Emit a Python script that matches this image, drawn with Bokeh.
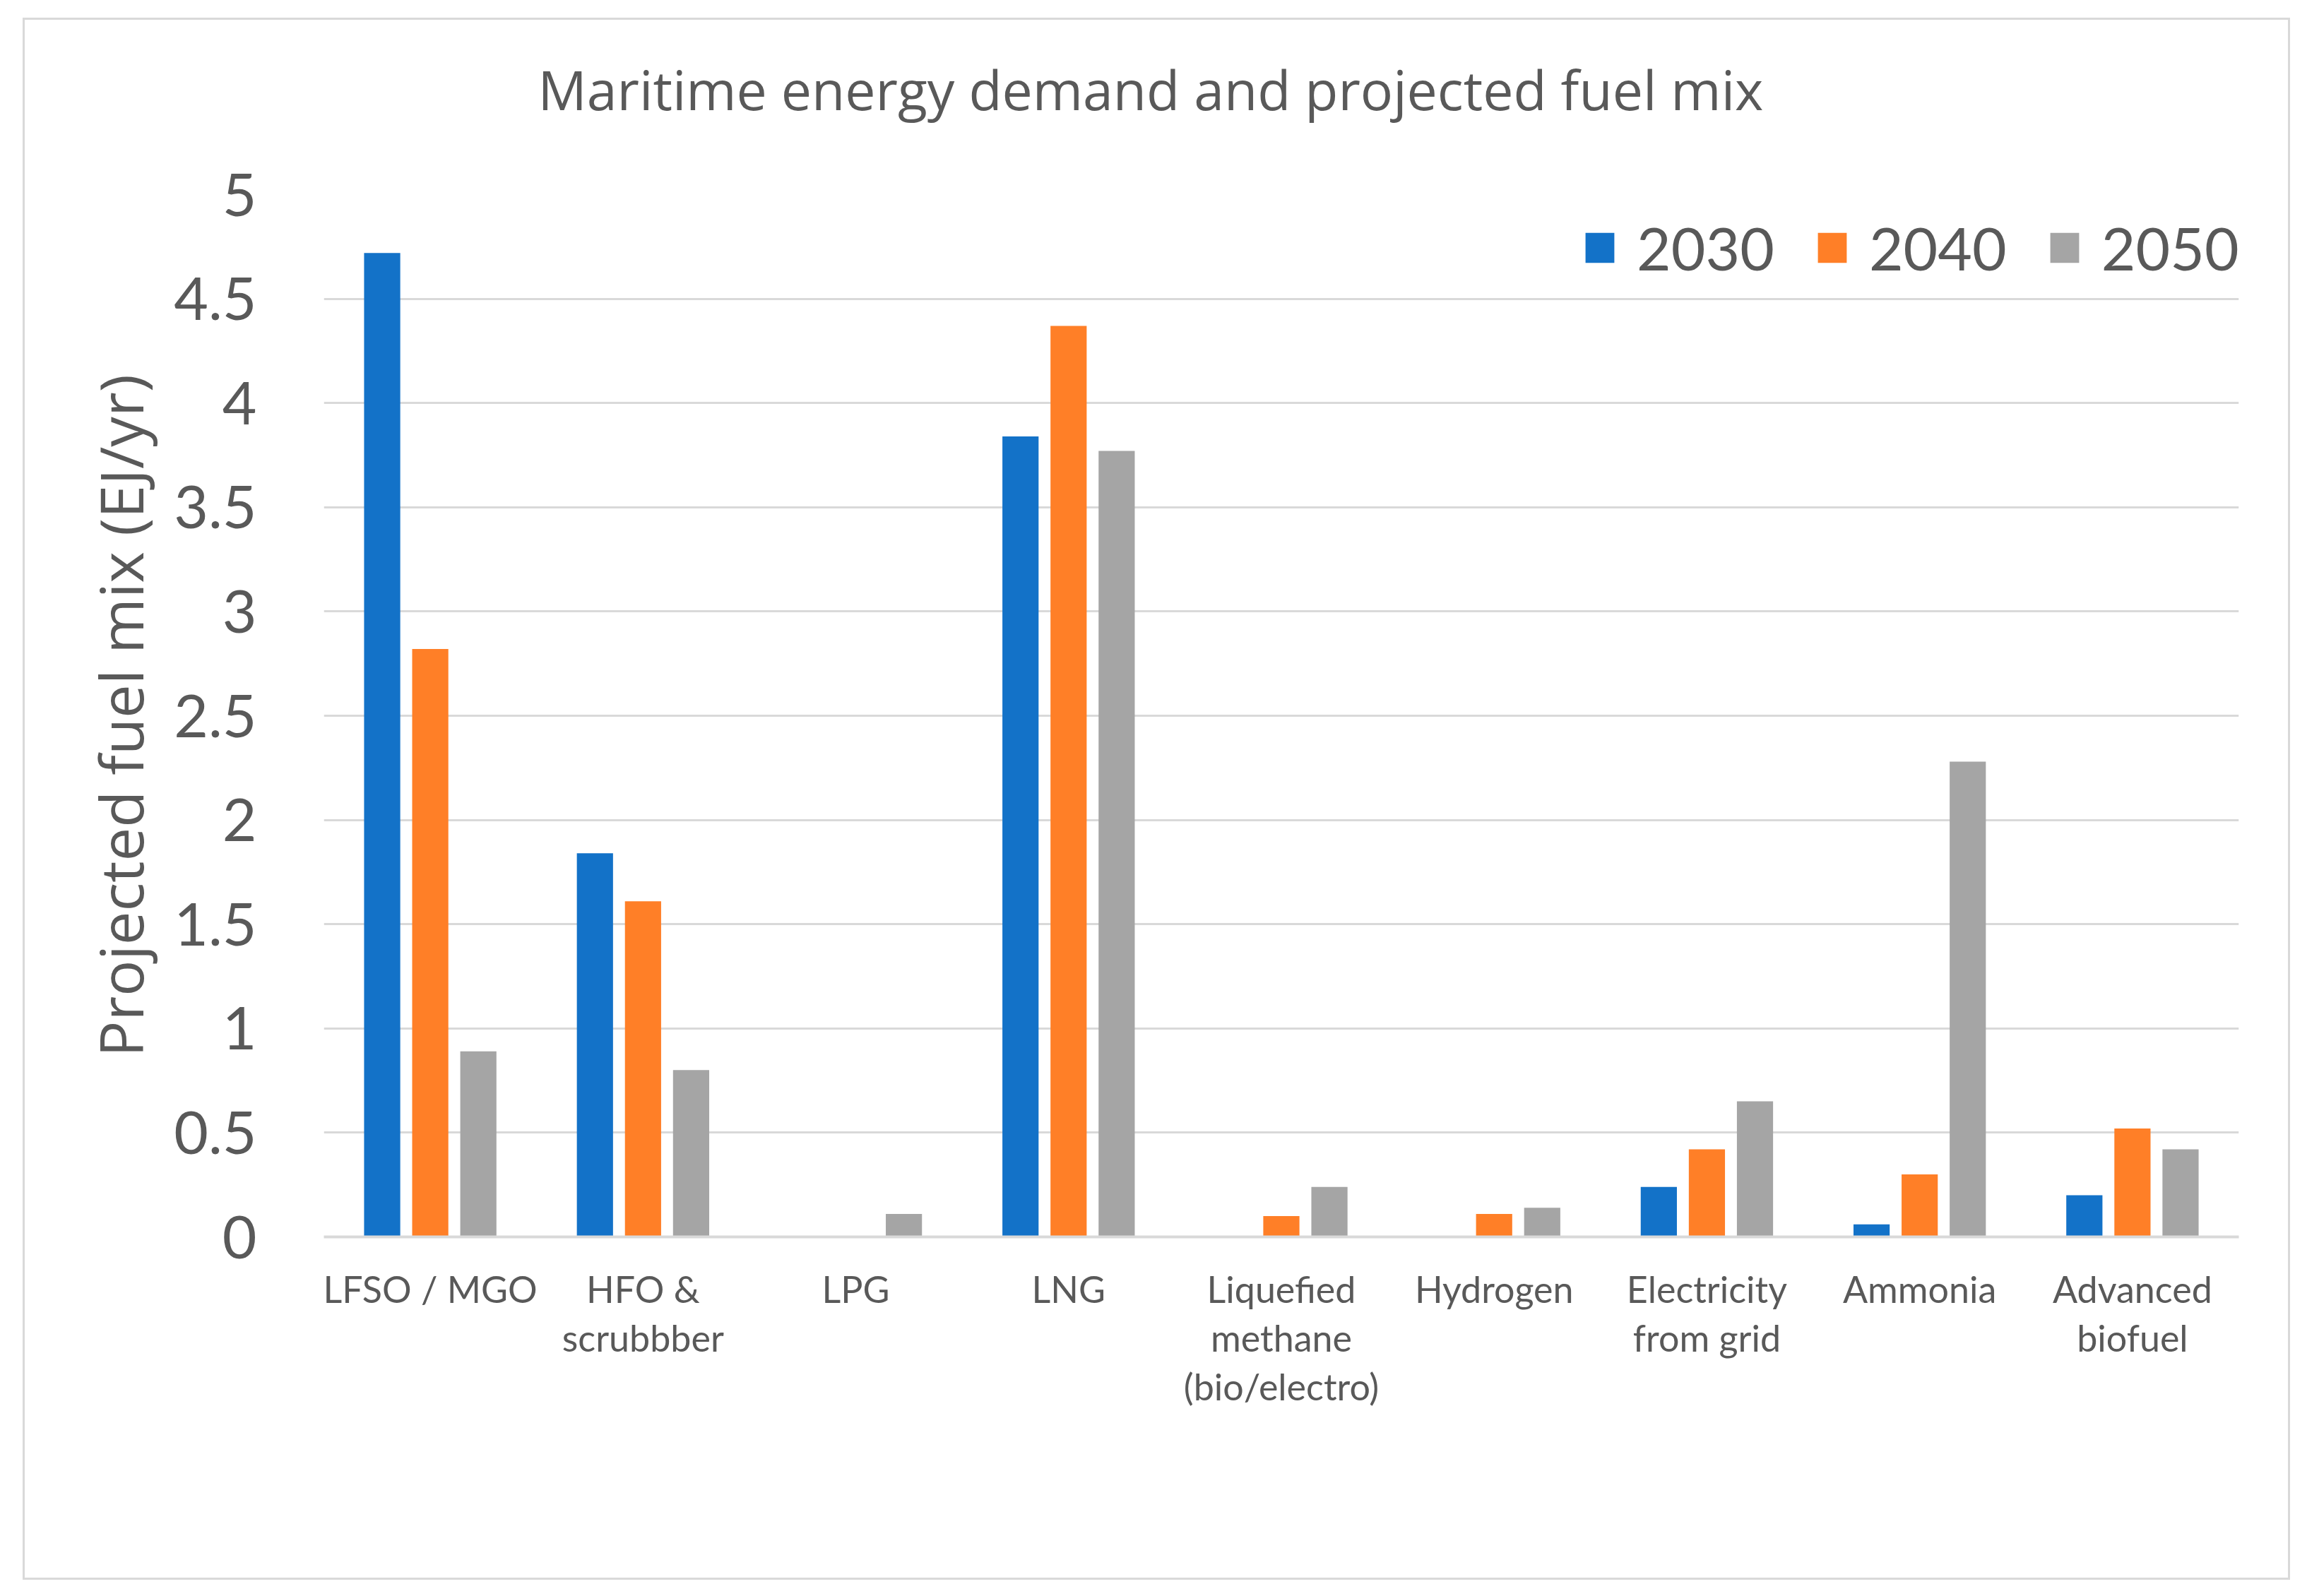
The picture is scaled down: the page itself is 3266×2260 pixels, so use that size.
from bokeh.plotting import figure
from bokeh.models import (FactorRange, Range1d, Legend, LegendItem, FixedTicker,
                          NumeralTickFormatter, ColumnDataSource, Title)
from bokeh.transform import dodge
from bokeh.embed import file_html
from bokeh.resources import INLINE

categories = ["LFSO / MGO", "HFO &\nscrubbber", "LPG", "LNG",
              "Liquefied\nmethane\n(bio/electro)", "Hydrogen",
              "Electricity\nfrom grid", "Ammonia", "Advanced\nbiofuel"]
years = ["2030", "2040", "2050"]
values_2030 = [4.72, 1.84, 0.0, 3.84, 0.0, 0.0, 0.24, 0.06, 0.20]
values_2040 = [2.82, 1.61, 0.0, 4.37, 0.10, 0.11, 0.42, 0.30, 0.52]
values_2050 = [0.89, 0.80, 0.11, 3.77, 0.24, 0.14, 0.65, 2.28, 0.42]
y_ticks = [0, 0.5, 1, 1.5, 2, 2.5, 3, 3.5, 4, 4.5, 5]
colors = ["#1372C8", "#FF7F27", "#A5A5A5"]
chart_title = "Maritime energy demand and projected fuel mix"

TXT = "#595959"

source = ColumnDataSource(data=dict(cat=categories, y2030=values_2030,
                                    y2040=values_2040, y2050=values_2050))

p = figure(x_range=FactorRange(factors=categories, range_padding=0),
           y_range=Range1d(0, 5), title=None,
           width=3210, height=2212, output_backend="svg", toolbar_location=None,
           min_border_left=423, min_border_right=76, min_border_top=247, min_border_bottom=489)
p.margin = (25, 0, 0, 32)
p.styles = {"border": "3px solid #D9D9D9"}
p.background_fill_color = "white"
p.border_fill_color = "white"
p.outline_line_color = None

# blank spacer between frame and title (added first -> closest to frame)
spacer = Title(text=" ", text_font="Open Sans", text_font_size="10px",
               text_color="white", standoff=81)
p.add_layout(spacer, "above")

main_title = Title(text=chart_title, text_font="Open Sans", text_font_size="77px",
                   text_font_style="normal", text_color=TXT, align="left",
                   vertical_align="bottom", offset=303, standoff=0)
p.add_layout(main_title, "above")

offsets = [-0.226, 0.0, 0.226]
renderers = []
for yr, off, col in zip(years, offsets, colors):
    r = p.vbar(x=dodge("cat", off, range=p.x_range), top="y" + yr, width=0.17,
               source=source, fill_color=col, line_color=None)
    renderers.append(r)

p.xgrid.grid_line_color = None
p.ygrid.grid_line_color = "#D9D9D9"
p.ygrid.grid_line_width = 3

p.yaxis.ticker = FixedTicker(ticks=y_ticks)
p.yaxis.formatter = NumeralTickFormatter(format="0.[0]")
p.yaxis.axis_line_color = None
p.yaxis.major_tick_line_color = None
p.yaxis.minor_tick_line_color = None
p.yaxis.major_tick_in = 0
p.yaxis.major_tick_out = 0
p.yaxis.major_label_standoff = 95
p.yaxis.major_label_text_font = "Lato"
p.yaxis.major_label_text_font_size = "84px"
p.yaxis.major_label_text_color = TXT
p.yaxis.axis_label = "Projected fuel mix (EJ/yr)"
p.yaxis.axis_label_text_font = "Open Sans"
p.yaxis.axis_label_text_font_size = "85px"
p.yaxis.axis_label_text_font_style = "normal"
p.yaxis.axis_label_text_color = TXT
p.yaxis.axis_label_standoff = 15

p.xaxis.axis_line_color = "#D9D9D9"
p.xaxis.axis_line_width = 4
p.xaxis.major_tick_line_color = None
p.xaxis.minor_tick_line_color = None
p.xaxis.major_tick_in = 0
p.xaxis.major_tick_out = 0
p.xaxis.major_label_standoff = 42
p.xaxis.major_label_text_font = "Lato"
p.xaxis.major_label_text_font_size = "52px"
p.xaxis.major_label_text_color = TXT
p.xaxis.major_label_text_line_height = 1.12

legend = Legend(items=[LegendItem(label=yr, renderers=[r]) for yr, r in zip(years, renderers)],
                orientation="horizontal", location=(1781, 1350))
legend.padding = 0
legend.margin = 0
legend.spacing = 56
legend.label_standoff = 27
legend.glyph_width = 51
legend.glyph_height = 53
legend.border_line_color = None
legend.background_fill_alpha = 0
legend.label_text_font = "Lato"
legend.label_text_font_size = "84px"
legend.label_text_color = TXT
p.add_layout(legend, "center")

open("out.html", "w").write(file_html(p, INLINE))
